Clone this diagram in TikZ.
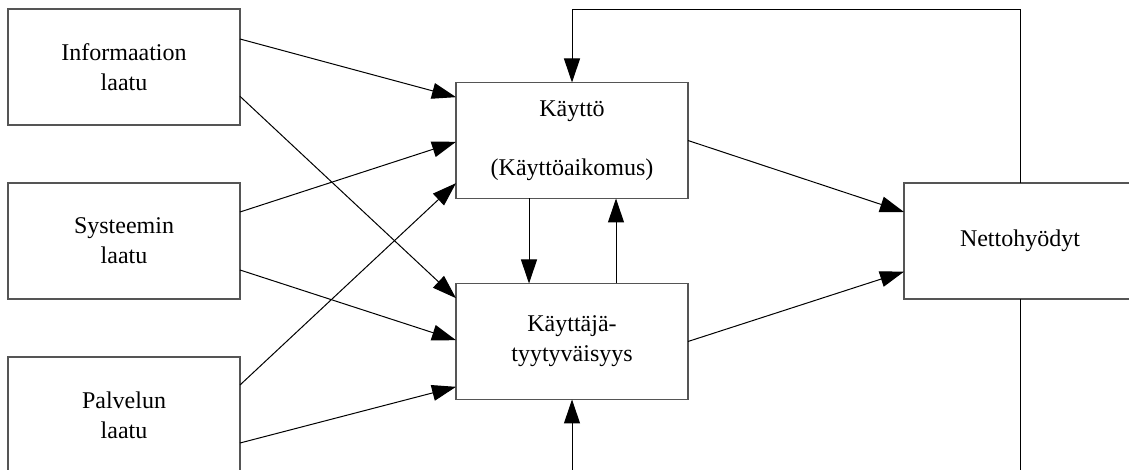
\documentclass[tikz,border=0pt]{standalone}
\usepackage{fontspec}
\setmainfont{Liberation Serif}
\usetikzlibrary{arrows.meta,calc}
\definecolor{boxgray}{HTML}{555555}
\tikzset{
  box/.style={draw=boxgray, line width=0.8pt, minimum width=174pt, minimum height=87pt,
    inner sep=0pt, outer sep=0pt, align=center, font=\fontsize{18}{22.5}\selectfont},
  arr/.style={draw=black, line width=0.75pt, -{Triangle[length=18pt,width=12pt]}},
  ln/.style={draw=black, line width=0.75pt}
}
\begin{document}
\begin{tikzpicture}[x=0.75pt,y=-0.75pt]
\useasboundingbox (0,0) rectangle (1129,470);
\clip (0,0) rectangle (1129,470);
\node[box] (info) at (124,67) {Informaation\\laatu};
\node[box] (sys) at (124,241) {Systeemin\\laatu};
\node[box] (palv) at (124,415) {Palvelun\\laatu};
\node[box] (kay) at (572,140.5) {Käyttö\\[21.75pt](Käyttöaikomus)};
\node[box] (kt) at (572,341.5) {Käyttäjä-\\tyytyväisyys};
\node[box] (netto) at (1020,241) {Nettohyödyt};
\coordinate (fb) at (1020,10);
\coordinate (bot1) at (572,472);
\coordinate (bot2) at (1020,472);

\draw[arr] ([yshift=21pt]info.east) -- ([yshift=32.5pt]kay.west);
\draw[arr] ([yshift=-22pt]info.east) -- ([yshift=32.5pt]kt.west);
\draw[arr] ([yshift=21.75pt]sys.east) -- ([yshift=-1pt]kay.west);
\draw[arr] ([yshift=-21.75pt]sys.east) -- ([yshift=1pt]kt.west);
\draw[arr] ([yshift=22.5pt]palv.east) -- ([yshift=-32pt]kay.west);
\draw[arr] ([yshift=-21pt]palv.east) -- ([yshift=-34pt]kt.west);

\draw[arr] (kay.east) -- ([yshift=21.75pt]netto.west);
\draw[arr] (kt.east) -- ([yshift=-23pt]netto.west);

\draw[arr] ([xshift=-32.25pt]kay.south) -- ([xshift=-32.25pt]kt.north);
\draw[arr] ([xshift=33pt]kt.north) -- ([xshift=33pt]kay.south);

\draw[arr] (netto.north) -- (netto.north |- fb) -| (kay.north);
\draw[arr] (bot1) -- (kt.south);
\draw[ln] (netto.south) -- (bot2);
\end{tikzpicture}
\end{document}
